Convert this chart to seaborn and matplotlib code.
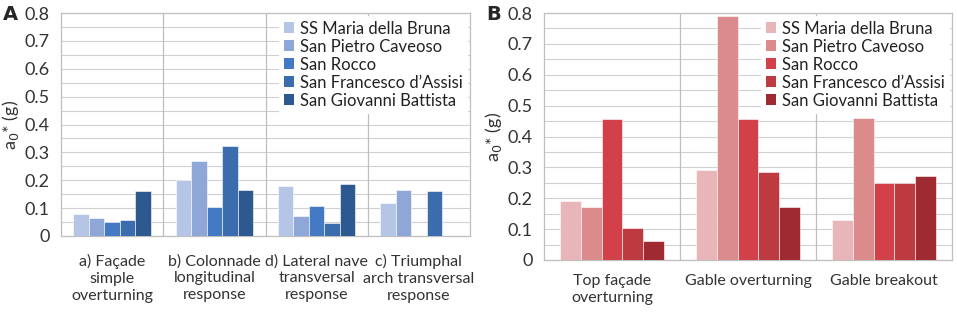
import numpy as np
import pandas as pd
import matplotlib
matplotlib.use("Agg")
import matplotlib.pyplot as plt
import seaborn as sns
from matplotlib.patches import Patch

churches = ["SS Maria della Bruna", "San Pietro Caveoso", "San Rocco",
            "San Francesco d\u2019Assisi", "San Giovanni Battista"]

cats_a = ["a) Façade\nsimple\noverturning", "b) Colonnade\nlongitudinal\nresponse",
          "d) Lateral nave\ntransversal\nresponse", "c) Triumphal\narch transversal\nresponse"]
vals_a = {
    "SS Maria della Bruna":      [0.078, 0.200, 0.178, 0.120],
    "San Pietro Caveoso":        [0.064, 0.270, 0.070, 0.165],
    "San Rocco":                 [0.050, 0.105, 0.107, np.nan],
    "San Francesco d\u2019Assisi": [0.058, 0.322, 0.046, 0.163],
    "San Giovanni Battista":     [0.160, 0.165, 0.185, np.nan],
}

cats_b = ["Top façade\noverturning", "Gable overturning", "Gable breakout"]
vals_b = {
    "SS Maria della Bruna":      [0.190, 0.290, 0.130],
    "San Pietro Caveoso":        [0.172, 0.790, 0.460],
    "San Rocco":                 [0.458, 0.458, 0.250],
    "San Francesco d\u2019Assisi": [0.103, 0.285, 0.248],
    "San Giovanni Battista":     [0.063, 0.172, 0.273],
}

blues = ["#b4c5e5", "#8ea7d7", "#4479c4", "#3b6cae", "#2d5890"]
reds = ["#e8b6b8", "#dc8b8d", "#d2404a", "#bd3a40", "#9f2a31"]

sns.set_theme(style="white")
plt.rcParams["font.family"] = ["Lato", "DejaVu Sans"]

W, H = 957, 313
fig = plt.figure(figsize=(W / 100, H / 100), dpi=100)


def make_df(cats, vals):
    rows = []
    for c in churches:
        for cat, v in zip(cats, vals[c]):
            rows.append({"cat": cat, "church": c, "val": v})
    return pd.DataFrame(rows)


def panel(rect, cats, vals, pal, letter, xpad):
    x0, y0, x1, y1 = rect
    ax = fig.add_axes([x0 / W, 1 - y1 / H, (x1 - x0) / W, (y1 - y0) / H])
    df = make_df(cats, vals)
    sns.barplot(data=df, x="cat", y="val", hue="church", hue_order=churches,
                order=cats, palette=pal, saturation=1, width=0.76, ax=ax,
                errorbar=None, edgecolor="white", linewidth=0.4, legend=False,
                zorder=3)
    ax.set_ylim(0, 0.8)
    ax.set_xlim(-0.5, len(cats) - 0.5)
    ax.set_yticks(np.arange(0, 0.81, 0.1))
    ax.set_yticklabels(["0"] + [f"{v:.1f}" for v in np.arange(0.1, 0.81, 0.1)],
                       fontsize=13, color="#333333")
    ax.set_yticks(np.arange(0.05, 0.8, 0.1), minor=True)
    ax.grid(axis="y", which="both", color="#d0d0d0", linewidth=0.8, zorder=0)
    ax.set_axisbelow(True)
    for k in range(1, len(cats)):
        ax.axvline(k - 0.5, color="#bfbfbf", linewidth=0.9, zorder=1)
    ax.set_xticks(range(len(cats)))
    ax.set_xticklabels(cats, fontsize=11.5, color="#333333",
                       linespacing=1.25, multialignment="center", ha="center")
    ax.tick_params(axis="x", length=0, pad=xpad)
    ax.tick_params(axis="y", length=0, pad=8)
    ax.set_xlabel("")
    ax.set_ylabel(r"a$_0$* (g)", fontsize=13, color="#333333", labelpad=3)
    for s in ax.spines.values():
        s.set_color("#bfbfbf")
        s.set_linewidth(0.9)
    handles = [Patch(facecolor=c, edgecolor="none") for c in pal]
    leg = ax.legend(handles, churches, loc="upper right", fontsize=12,
                    frameon=True, fancybox=False, framealpha=1,
                    handlelength=0.6, handleheight=0.6, handletextpad=0.35,
                    labelspacing=0.12, borderpad=0.3, borderaxespad=0.15)
    leg.get_frame().set_edgecolor("none")
    leg.set_zorder(5)
    for t in leg.get_texts():
        t.set_color("#222222")
    fig.text((x0 - 58) / W, 1 - 14 / H, letter, fontsize=14, fontweight="bold",
             ha="left", va="center", family="DejaVu Sans")
    return ax


panel((61, 13, 470, 236), cats_a, vals_a, blues, "A", 13)
panel((544, 13, 952, 260), cats_b, vals_b, reds, "B", 10)

fig.savefig("out.png", dpi=100)
